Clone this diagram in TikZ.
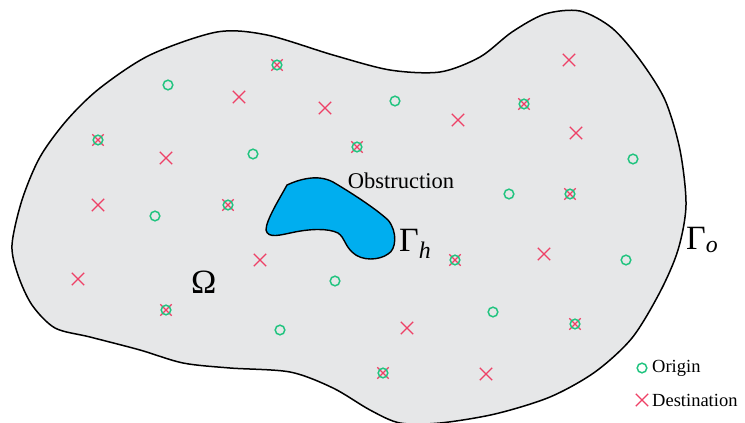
\documentclass[tikz,border=0pt]{standalone}
\usepackage{fontspec}
\newfontfamily\tnr{Liberation Serif}
\usetikzlibrary{shapes.misc}
\definecolor{regiongray}{RGB}{230,231,232}
\definecolor{obsblue}{RGB}{0,174,239}
\definecolor{origgreen}{RGB}{34,196,128}
\definecolor{destred}{RGB}{238,64,102}
\tikzset{
  orig/.style={circle,draw=origgreen,line width=1.5pt,inner sep=0pt,minimum size=9.6pt},
  dest/.style={cross out,draw=destred,line width=1.4pt,inner sep=0pt,minimum size=11pt},
  destsmall/.style={cross out,draw=destred,line width=1.3pt,inner sep=0pt,minimum size=10pt},
  lbl/.style={inner sep=0pt,anchor=base west,text=black}
}
\newcommand{\both}[2]{%
  \node[destsmall] (#1x) at #2 {};
  \node[orig] (#1) at #2 {};
}
\begin{document}
\begin{tikzpicture}[x=1pt,y=-1pt,font=\tnr]
\useasboundingbox (0,0) rectangle (745,423);
% outer region
\draw[fill=regiongray,line width=1.5pt,line join=round] plot[smooth cycle,tension=0.5] coordinates {
 (12,245) (22,200) (40,157) (67,120) (100,88) (150,55) (217,32) (267,35) (333,55) (390,70)
 (440,72) (480,57) (512,32) (545,14) (580,11) (612,28) (640,60) (665,100) (680,150) (686,205)
 (678,250) (660,292) (632,338) (595,372) (550,397) (495,414) (440,423) (400,423) (370,410)
 (333,388) (290,372) (230,368) (183,363) (140,350) (90,337) (55,328) (32,305) (18,275)};
% obstruction
\draw[fill=obsblue,line width=1.4pt,line join=round]
 (287,185) .. controls (300,179) and (318,174) .. (333,182)
 .. controls (350,192) and (375,208) .. (388,220)
 .. controls (398,232) and (396,250) .. (388,254)
 .. controls (380,260) and (362,262) .. (352,252)
 .. controls (344,244) and (345,238) .. (338,233)
 .. controls (328,228) and (310,229) .. (295,232)
 .. controls (280,235) and (268,239) .. (266,230)
 .. controls (266,220) and (280,198) .. (287,185) -- cycle;
\node[font=\tnr\fontsize{22.5}{22.5}\selectfont,inner sep=0pt] (obs) at (401,181) {Obstruction};
\node[lbl,font=\tnr\fontsize{34}{34}\selectfont] (gh) at (399,251) {Γ\textsubscript{\textit{h}}};
\node[lbl,font=\tnr\fontsize{34}{34}\selectfont] (go) at (686,249) {Γ\textsubscript{\textit{o}}};
\node[lbl,font=\tnr\fontsize{34}{34}\selectfont] (om) at (191,293) {Ω};
% origins
\node[orig] (o1) at (168,85) {};
\node[orig] (o2) at (253,154) {};
\node[orig] (o3) at (155,216) {};
\node[orig] (o4) at (395,101) {};
\node[orig] (o5) at (633,159) {};
\node[orig] (o6) at (509,194) {};
\node[orig] (o7) at (335,281) {};
\node[orig] (o8) at (280,330) {};
\node[orig] (o9) at (626,260) {};
\node[orig] (o10) at (493,312) {};
% destinations
\node[dest] (d1) at (239,97) {};
\node[dest] (d2) at (325,108) {};
\node[dest] (d3) at (166,158) {};
\node[dest] (d4) at (98,205) {};
\node[dest] (d5) at (458,120) {};
\node[dest] (d6) at (569,60) {};
\node[dest] (d7) at (576,133) {};
\node[dest] (d8) at (78,279) {};
\node[dest] (d9) at (260,260) {};
\node[dest] (d10) at (544,254) {};
\node[dest] (d11) at (407,328) {};
\node[dest] (d12) at (486,374) {};
% both
\both{b1}{(277,65)}
\both{b2}{(98,140)}
\both{b3}{(357,147)}
\both{b4}{(228,205)}
\both{b5}{(524,104)}
\both{b6}{(570,194)}
\both{b7}{(166,310)}
\both{b8}{(455,260)}
\both{b9}{(575,324)}
\both{b10}{(383,373)}
% legend
\node[orig] (lo) at (642,368) {};
\node[dest] (ld) at (642,400) {};
\node[inner sep=0pt,anchor=west,font=\tnr\fontsize{18.5}{18.5}\selectfont] (lot) at (652,368) {Origin};
\node[inner sep=0pt,anchor=west,font=\tnr\fontsize{18.5}{18.5}\selectfont] (ldt) at (652,400) {Destination};
\end{tikzpicture}
\end{document}
